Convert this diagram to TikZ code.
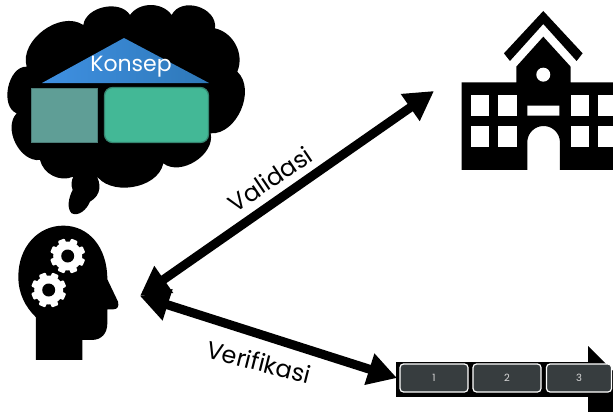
\documentclass[tikz,border=0pt]{standalone}
\usepackage{fontspec}
\setmainfont{Poppins}
\usetikzlibrary{arrows.meta}
\definecolor{roofa}{HTML}{3F90E2}
\definecolor{roofb}{HTML}{2E78B8}
\definecolor{tealbox}{HTML}{5F9E96}
\definecolor{tealedge}{HTML}{4C7D78}
\definecolor{greenbox}{HTML}{43B896}
\definecolor{greenedge}{HTML}{35846F}
\definecolor{stepfill}{HTML}{373D3F}
\tikzset{
  link/.style={line width=9pt,{Triangle[length=29pt,width=31pt]}-{Triangle[length=29pt,width=31pt]}},
  steplabel/.style={text=white!85!black,font=\fontsize{10}{12}\selectfont},
  stepbox/.style={draw=white,line width=1.2pt,fill=stepfill,rounded corners=3.5pt,minimum height=28pt,inner sep=0pt},
  edgelabel/.style={font=\fontsize{24}{28}\selectfont,inner sep=0pt}
}
\newcommand{\gearshape}[2]{%
  \fill[white] (#1,#2) circle (14.5);
  \foreach \ga in {0,45,...,315}{
    \fill[white,rotate around={\ga+22:(#1,#2)},rounded corners=1pt] (#1-3.6,#2-17.5) rectangle (#1+3.6,#2);
  }
  \fill[black] (#1,#2) circle (6.5);
}
\begin{document}
\begin{tikzpicture}[x=1pt,y=-1pt]
\useasboundingbox (0,0) rectangle (613,412);
\begin{scope}
\clip (0,0) rectangle (613,412);
% cloud
\begin{scope}[x=0.3333pt,y=-0.3333pt]
\fill[black] (80,200) to[bend left=70] (250,75) to[bend left=70] (390,45) to[bend left=55] (515,45)
  to[bend left=80,looseness=1.2] (645,85) to[bend left=50] (712,215) to[bend left=70] (632,400)
  to[bend left=70] (490,490) to[bend left=70] (285,520)
  .. controls (305,550) and (305,585) .. (270,605) .. controls (260,630) and (235,650) .. (215,640)
  .. controls (200,625) and (205,595) .. (218,570) .. controls (212,555) and (215,540) .. (220,530)
  to[bend left=50] (120,480) to[bend left=70] (50,340) to[bend left=80] cycle;
\end{scope}
\shade[left color=roofa,right color=roofb] (124,38) -- (209,83) -- (42,83) -- cycle;
\node[font=\fontsize{22}{26}\selectfont,text=white,inner sep=0pt] (konsep) at (131,67) {Konsep};
\node[draw=tealedge,line width=1.2pt,fill=tealbox,minimum width=66pt,minimum height=54pt,inner sep=0pt] (boxa) at (64.5,115.5) {};
\node[draw=greenedge,line width=1.2pt,fill=greenbox,rounded corners=8pt,minimum width=104pt,minimum height=55pt,inner sep=0pt] (boxb) at (156.5,115) {};
% head
\begin{scope}[x=0.3333pt,y=-0.3333pt,shift={(0,630)}]
\fill[black] (108,450) -- (108,322) .. controls (75,290) and (55,250) .. (55,200)
  .. controls (55,110) and (115,47) .. (190,47) .. controls (265,47) and (322,110) .. (322,208)
  -- (354,275) .. controls (358,290) and (352,298) .. (340,298) -- (322,298) -- (322,340)
  .. controls (322,370) and (305,390) .. (275,390) -- (247,390) -- (247,450) -- cycle;
\end{scope}
\gearshape{67.7}{256}
\gearshape{48.7}{290}
% school
\begin{scope}[x=0.3333pt,y=-0.3333pt,shift={(1320,0)}]
\fill[black] (310,33) -- (428,160) -- (410,183) -- (310,72) -- (210,183) -- (192,160) -- cycle;
\fill[black] (310,110) -- (392,200) -- (392,247) -- (540,247) -- (540,510) -- (360,510) -- (360,427)
  arc[start angle=0,end angle=-180,radius=49] -- (262,510) -- (65,510) -- (65,247) -- (229,247) -- (229,200) -- cycle;
\fill[white] (310,224) circle (21) (262,317) rectangle (358,347);
\foreach \wx in {93,175,392,473}{
  \fill[white] (\wx,286) rectangle +(55,61);
  \fill[white] (\wx,378) rectangle +(55,62);
}
\end{scope}
% road
\fill[black] (396,362) rectangle (592,397);
\fill[black] (588,346) -- (640,398) -- (588,450) -- cycle;
\node[stepbox,minimum width=68pt] (s1) at (434,378) {};
\node[stepbox,minimum width=68pt] (s2) at (507,378) {};
\node[stepbox,minimum width=65pt] (s3) at (579,378) {};
\node[steplabel] at (s1) {1};
\node[steplabel] at (s2) {2};
\node[steplabel] at (s3) {3};
\end{scope}
% connectors
\coordinate (personend) at (140,296);
\coordinate (schoolend) at (434,91);
\coordinate (roadend) at (397,378);
\draw[link] (personend) -- (schoolend);
\draw[link] (personend) -- (roadend);
\node[edgelabel,rotate=34] (val) at (270,179) {Validasi};
\node[edgelabel,rotate=-14] (ver) at (259,362) {Verifikasi};
\end{tikzpicture}
\end{document}
